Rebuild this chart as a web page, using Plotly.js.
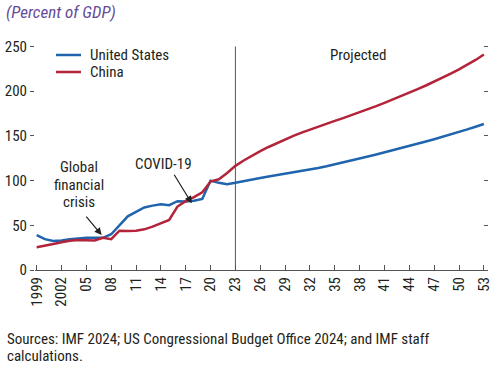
<!DOCTYPE html>
<html>
<head>
<meta charset="utf-8">
<script src="https://cdn.plot.ly/plotly-3.0.1.min.js"></script>
<style>html,body{margin:0;padding:0;background:#fff;}#chart{width:500px;height:366px;}</style>
</head>
<body>
<div id="chart"></div>
<script>
const years = [1999,2000,2001,2002,2003,2004,2005,2006,2007,2008,2009,2010,2011,2012,2013,2014,2015,2016,2017,2018,2019,2020,2021,2022,2023,2024,2025,2026,2027,2028,2029,2030,2031,2032,2033,2034,2035,2036,2037,2038,2039,2040,2041,2042,2043,2044,2045,2046,2047,2048,2049,2050,2051,2052,2053];
const unitedStates = [39,34.5,32.5,33,34.5,35.5,36,36,36,40,50,60,65,70,72,73.5,72.5,77,76.5,77.5,79.5,100,97.5,96,97.5,99.5,101.3,103,104.6,106.1,107.6,109.1,110.7,112.4,114.2,116.1,118.1,120.2,122.4,124.6,126.9,129.2,131.5,133.9,136.3,138.7,141.2,143.7,146.3,148.9,151.6,154.4,157.3,160.3,163.3];
const china = [25.5,27,29,31,32.8,33.5,33.5,33,36,34.5,44,43.5,44,45.5,48.5,52,56,71,77,81.5,87,99,101.5,108.5,116.5,122.5,128,133,137.6,142,146.1,150,153.7,157.2,160.5,163.7,166.8,169.9,173.1,176.4,179.8,183.3,186.9,190.6,194.4,198.3,202.3,206.4,210.6,215,219.6,224.4,229.5,235,241];
const seriesNames = ['United States', 'China'];
const seriesColors = ['#1f64ad', '#b3233a'];
const tickYears = [1999,2002,2005,2008,2011,2014,2017,2020,2023,2026,2029,2032,2035,2038,2041,2044,2047,2050,2053];
const tickLabels = ['1999','2002','05','08','11','14','17','20','23','26','29','32','35','38','41','44','47','50','53'];
const yTicks = [0,50,100,150,200,250];
const projectionStart = 2023;

const FONT = '"Liberation Sans Narrow", "Arial Narrow", "Roboto Condensed", "Liberation Sans", Arial, sans-serif';
const TXT = '#231f20';
const AX = '#555555';

const traces = [
  {x: years, y: unitedStates, name: seriesNames[0], type: 'scatter', mode: 'lines',
   line: {color: seriesColors[0], width: 2.5}},
  {x: years, y: china, name: seriesNames[1], type: 'scatter', mode: 'lines',
   line: {color: seriesColors[1], width: 2.5}},
  {x: [], y: [], yaxis: 'y2', showlegend: false, hoverinfo: 'skip'}
];

// manual legend (paper coordinates)
const legendY = [0.9556, 0.88];
const legendShapes = seriesNames.map((n, i) => ({
  type: 'line', xref: 'paper', yref: 'paper', x0: 0.0464, x1: 0.1015, y0: legendY[i], y1: legendY[i],
  line: {color: seriesColors[i], width: 2.5}
}));
const legendTexts = seriesNames.map((n, i) => ({
  text: n, xref: 'paper', yref: 'paper', x: 0.117, y: legendY[i], xanchor: 'left', yanchor: 'middle',
  showarrow: false, font: {family: FONT, size: 15, color: TXT}
}));

const layout = {
  width: 500, height: 366,
  margin: {l: 35, r: 12, t: 45, b: 96, pad: 0},
  paper_bgcolor: '#ffffff', plot_bgcolor: '#ffffff',
  font: {family: FONT, size: 15, color: TXT},
  title: {text: '(Percent of GDP)', x: 0.012, xanchor: 'left', xref: 'container',
          y: 0.966, yanchor: 'middle', yref: 'container',
          font: {family: FONT, size: 17, color: '#654b98', style: 'italic'}},
  showlegend: false,
  xaxis: {range: [1998.8, 2053.5], showgrid: false, zeroline: false,
          showline: true, linecolor: AX, linewidth: 1,
          ticks: 'inside', ticklen: 5, tickcolor: AX, tickwidth: 1,
          tickvals: tickYears, ticktext: tickLabels, tickangle: -90,
          tickfont: {family: FONT, size: 15, color: TXT}},
  yaxis: {range: [0, 251.7], showgrid: false, zeroline: false, showline: false,
          ticks: 'outside', ticklen: 4, tickcolor: AX, tickwidth: 1,
          tickvals: yTicks, tickfont: {family: FONT, size: 15, color: TXT}},
  yaxis2: {range: [0, 251.7], overlaying: 'y', side: 'right', showgrid: false, zeroline: false,
           showline: false, ticks: 'inside', ticklen: 4, tickcolor: AX, tickwidth: 1,
           tickvals: yTicks, showticklabels: false},
  shapes: [
    {type: 'line', xref: 'x', yref: 'y', x0: projectionStart, x1: projectionStart, y0: 0, y1: 250,
     line: {color: AX, width: 1}}
  ].concat(legendShapes),
  annotations: [
    {text: 'Projected', xref: 'x', yref: 'y', x: 2037.9, y: 240.5, showarrow: false,
     xanchor: 'center', yanchor: 'middle', font: {family: FONT, size: 15, color: TXT}},
    {text: 'COVID-19', xref: 'x', yref: 'y', x: 2014.3, y: 118.6, showarrow: false,
     xanchor: 'center', yanchor: 'middle', font: {family: FONT, size: 15, color: TXT}},
    {text: 'Global', xref: 'x', yref: 'y', x: 2004.1, y: 115.5, showarrow: false,
     xanchor: 'center', yanchor: 'middle', font: {family: FONT, size: 15, color: TXT}},
    {text: 'financial', xref: 'x', yref: 'y', x: 2004.1, y: 95.1, showarrow: false,
     xanchor: 'center', yanchor: 'middle', font: {family: FONT, size: 15, color: TXT}},
    {text: 'crisis', xref: 'x', yref: 'y', x: 2004.1, y: 76.4, showarrow: false,
     xanchor: 'center', yanchor: 'middle', font: {family: FONT, size: 15, color: TXT}},
    {text: '', xref: 'x', yref: 'y', x: 2006.85, y: 39.1, axref: 'x', ayref: 'y', ax: 2004.84, ay: 61.5,
     showarrow: true, arrowhead: 2, arrowsize: 1.2, arrowwidth: 1.2, arrowcolor: TXT, standoff: 0},
    {text: '', xref: 'x', yref: 'y', x: 2017.73, y: 74.6, axref: 'x', ayref: 'y', ax: 2015.5, ay: 108.2,
     showarrow: true, arrowhead: 2, arrowsize: 1.2, arrowwidth: 1.2, arrowcolor: TXT, standoff: 0},
    {text: 'Sources: IMF 2024; US Congressional Budget Office 2024; and IMF staff',
     xref: 'paper', yref: 'paper', x: -0.0662, y: -0.3067, xanchor: 'left', yanchor: 'middle',
     showarrow: false, align: 'left', font: {family: FONT, size: 15, color: TXT}},
    {text: 'calculations.',
     xref: 'paper', yref: 'paper', x: -0.0662, y: -0.3822, xanchor: 'left', yanchor: 'middle',
     showarrow: false, align: 'left', font: {family: FONT, size: 15, color: TXT}}
  ].concat(legendTexts)
};

Plotly.newPlot('chart', traces, layout, {displayModeBar: false, staticPlot: true});
</script>
</body>
</html>
